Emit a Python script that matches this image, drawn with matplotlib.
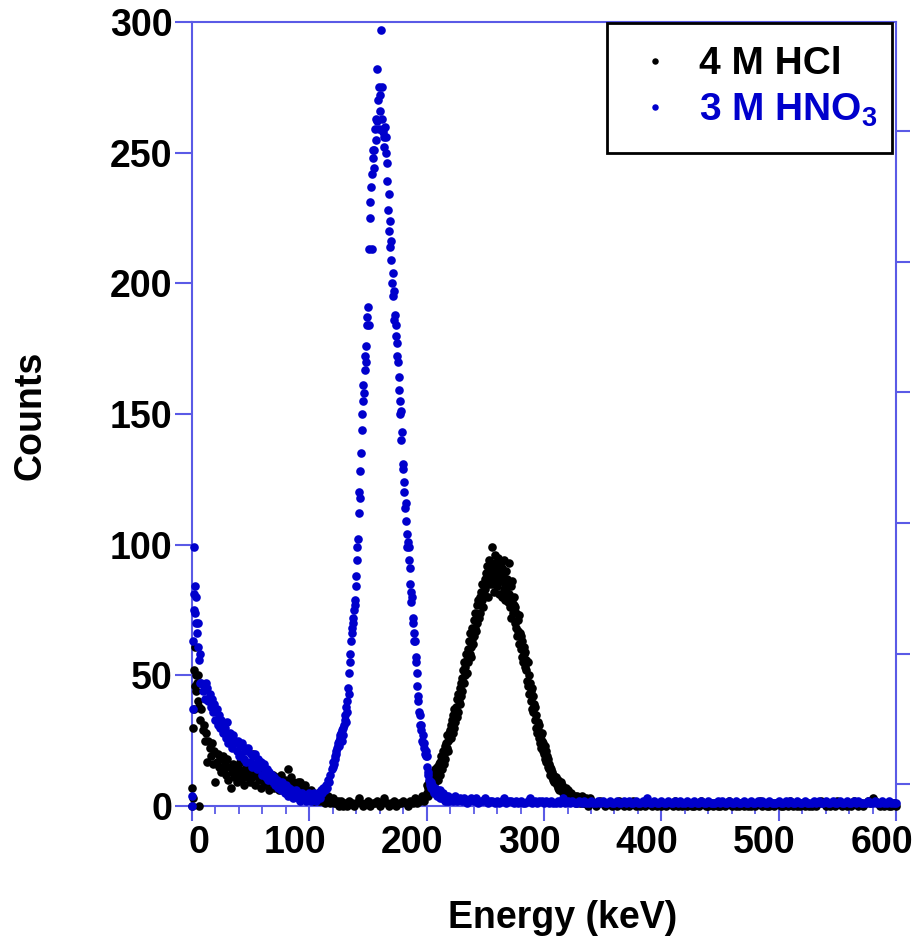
import numpy as np
import matplotlib
matplotlib.use('Agg')
import matplotlib.pyplot as plt
import matplotlib.transforms as mtransforms
from matplotlib.ticker import MultipleLocator

plt.rcParams['font.family'] = ['Liberation Sans', 'DejaVu Sans']
plt.rcParams['font.weight'] = 'bold'
plt.rcParams['mathtext.fontset'] = 'custom'
plt.rcParams['mathtext.rm'] = 'Liberation Sans:bold'
plt.rcParams['mathtext.bf'] = 'Liberation Sans:bold'
plt.rcParams['mathtext.default'] = 'bf'

# ---------------- data ----------------
series_labels = ['4 M HCl', '3 M HNO$_3$']
x_ticks = [0, 100, 200, 300, 400, 500, 600]
y_ticks = [0, 50, 100, 150, 200, 250, 300]
right_ticks = [8.3, 58.3, 108.3, 158.3, 208.3, 258.3]

# 4 M HCl
hcl_e_start = [0.0, 0.2, 0.5, 0.9, 1.3, 1.8, 2.2, 2.7, 3.1, 3.6, 4.2, 4.8, 5.5, 6.0, 6.3, 7.0]
hcl_c_start = [0, 7, 3, 30, 37, 52, 61, 46, 50, 44, 47, 40, 50, 0, 38, 33]
hcl_c_low = [  # 8..129 keV, 1 keV channels
    37, 29, 31, 25, 28, 17, 25, 22, 19, 24,
    16, 21, 9, 17, 20, 15, 18, 13, 19, 14,
    16, 12, 18, 10, 15, 7, 13, 16, 11, 14,
    9, 15, 12, 17, 10, 13, 8, 14, 11, 16,
    12, 9, 14, 11, 20, 13, 8, 12, 15, 10,
    11, 7, 13, 9, 12, 8, 9, 11, 6, 10,
    9, 12, 7, 10, 8, 11, 6, 9, 12, 8,
    7, 10, 6, 9, 14, 8, 11, 7, 9, 5,
    8, 6, 9, 5, 9, 7, 4, 6, 8, 4,
    5, 3, 4, 6, 3, 5, 2, 4, 3, 5,
    2, 3, 4, 2, 3, 1, 3, 2, 4, 2,
    1, 2, 3, 1, 2, 1, 2, 0, 1, 2, 1, 0]
hcl_c_mid = [  # 130..198 keV, 2 keV channels
    1, 0, 2, 1, 0, 1, 3, 1, 0, 1,
    2, 0, 1, 1, 2, 0, 1, 3, 1, 0,
    1, 2, 0, 1, 1, 2, 1, 0, 2, 1,
    3, 1, 2, 4, 2]
hcl_c_peak = [  # 200..339.5 keV, 0.5 keV channels
    5, 8, 4, 7, 9, 6, 10, 7, 12, 8,
    11, 8, 13, 10, 9, 14, 11, 12, 15, 10,
    13, 16, 12, 17, 15, 19, 14, 18, 21, 16,
    20, 23, 18, 24, 22, 27, 25, 21, 28, 26,
    29, 26, 31, 33, 28, 35, 30, 37, 32, 36,
    38, 34, 41, 36, 43, 40, 45, 39, 47, 42,
    49, 44, 52, 47, 55, 50, 53, 58, 51, 56,
    60, 55, 63, 58, 66, 61, 57, 68, 64, 62,
    65, 71, 68, 74, 67, 77, 70, 73, 79, 72,
    80, 74, 82, 77, 85, 79, 76, 84, 81, 87,
    83, 89, 86, 92, 80, 88, 94, 85, 90, 87,
    91, 85, 99, 88, 93, 82, 96, 89, 86, 92,
    84, 90, 95, 87, 81, 89, 93, 86, 80, 91,
    88, 83, 94, 79, 85, 90, 82, 87, 78, 84,
    81, 93, 76, 84, 72, 79, 86, 74, 80, 77,
    70, 76, 68, 74, 65, 71, 67, 62, 73, 66,
    60, 65, 57, 63, 55, 61, 58, 53, 59, 56,
    52, 48, 55, 46, 50, 43, 47, 44, 40, 45,
    37, 42, 36, 39, 33, 38, 30, 35, 28, 32,
    29, 26, 31, 24, 27, 22, 25, 28, 21, 24,
    20, 23, 18, 21, 17, 19, 15, 18, 16, 14,
    15, 12, 14, 11, 13, 10, 12, 9, 11, 10,
    9, 11, 8, 10, 7, 9, 6, 8, 7, 9,
    6, 8, 5, 7, 4, 6, 5, 7, 4, 5,
    4, 6, 3, 5, 4, 3, 5, 2, 4, 3,
    3, 2, 4, 3, 1, 3, 2, 4, 2, 3,
    2, 3, 1, 2, 4, 2, 1, 3, 2, 1,
    2, 1, 3, 1, 2, 0, 2, 1, 3, 1]
hcl_c_tail = [  # 340..600 keV, 2 keV channels
    2, 1, 0, 1, 2, 1, 0, 1, 1, 0,
    1, 0, 2, 1, 0, 1, 0, 1, 2, 0,
    1, 0, 1, 0, 2, 1, 0, 1, 0, 1,
    0, 1, 0, 1, 1, 0, 2, 0, 1, 0,
    1, 0, 1, 0, 0, 1, 0, 2, 1, 0,
    0, 1, 0, 1, 0, 0, 1, 0, 1, 2,
    0, 1, 0, 0, 1, 0, 1, 0, 0, 1,
    0, 1, 2, 0, 1, 0, 0, 1, 0, 1,
    1, 0, 0, 1, 0, 2, 0, 1, 0, 0,
    1, 0, 1, 0, 0, 1, 0, 1, 2, 1,
    0, 1, 0, 1, 0, 2, 1, 0, 1, 0,
    1, 0, 2, 1, 0, 1, 0, 1, 2, 1,
    3, 2, 1, 0, 1, 0, 1, 0, 0, 1,
    0]

# 3 M HNO3
hno3_e_start = [0.0, 0.3, 0.6, 1.0, 1.3, 1.7, 2.1, 2.5, 2.9, 3.3, 3.8, 4.3, 4.8, 5.3, 5.9, 6.5, 7.1]
hno3_c_start = [0, 4, 37, 63, 75, 99, 81, 84, 74, 80, 70, 66, 70, 61, 56, 58, 47]
hno3_c_low = [  # 8..119 keV, 1 keV channels
    47, 44, 46, 41, 47, 45, 40, 43, 38, 41,
    36, 39, 33, 37, 31, 35, 30, 33, 28, 31,
    30, 26, 32, 24, 28, 26, 22, 27, 24, 25,
    21, 25, 19, 23, 20, 24, 18, 22, 17, 21,
    22, 17, 20, 15, 19, 16, 20, 14, 18, 16,
    15, 17, 12, 16, 13, 11, 14, 10, 13, 11,
    12, 9, 11, 8, 10, 7, 9, 8, 6, 9,
    7, 5, 8, 6, 4, 7, 5, 6, 3, 5,
    4, 6, 3, 5, 2, 4, 5, 3, 4, 2,
    4, 3, 5, 2, 4, 3, 5, 4, 2, 4,
    5, 3, 6, 5, 7, 6, 8, 7, 10, 9, 12, 14]
hno3_c_peak = [  # 120..219.5 keV, 0.5 keV channels
    15, 17, 16, 19, 18, 21, 20, 22, 24, 23,
    25, 23, 27, 26, 28, 25, 29, 30, 27, 31,
    33, 35, 32, 38, 36, 40, 45, 43, 51, 55,
    58, 63, 68, 66, 72, 70, 75, 79, 77, 84,
    88, 94, 99, 102, 112, 120, 118, 128, 135, 144,
    150, 155, 161, 158, 167, 172, 176, 170, 184, 187,
    191, 184, 213, 225, 231, 237, 242, 213, 248, 251,
    251, 244, 259, 255, 263, 262, 282, 270, 259, 275,
    266, 272, 297, 275, 263, 259, 258, 252, 256, 260,
    256, 250, 246, 239, 228, 234, 220, 224, 214, 216,
    209, 200, 204, 195, 197, 186, 188, 184, 180, 177,
    172, 170, 164, 159, 155, 150, 151, 140, 143, 129,
    131, 124, 120, 114, 116, 109, 104, 99, 101, 94,
    99, 91, 85, 82, 78, 80, 70, 72, 66, 63,
    63, 55, 57, 51, 46, 42, 40, 36, 35, 31,
    31, 29, 25, 27, 24, 22, 24, 20, 21, 19,
    19, 15, 13, 12, 10, 9, 8, 9, 7, 8,
    6, 7, 5, 6, 7, 5, 6, 4, 5, 6,
    5, 4, 6, 3, 5, 4, 3, 5, 4, 3,
    4, 3, 2, 4, 3, 2, 3, 4, 2, 3]
hno3_c_tail = [  # 220..600 keV, 2 keV channels
    3, 2, 4, 2, 3, 2, 3, 1, 2, 3,
    2, 3, 1, 2, 2, 3, 1, 2, 2, 1,
    2, 1, 2, 3, 1, 2, 2, 1, 2, 1,
    2, 1, 1, 2, 3, 1, 2, 1, 2, 2,
    1, 2, 1, 2, 1, 1, 2, 1, 3, 1,
    2, 1, 2, 1, 1, 2, 1, 2, 1, 1,
    2, 1, 1, 2, 1, 2, 1, 1, 2, 1,
    1, 2, 1, 1, 2, 1, 2, 1, 1, 2,
    1, 1, 2, 1, 3, 1, 1, 2, 1, 1,
    2, 1, 1, 2, 1, 1, 2, 1, 2, 1,
    1, 2, 1, 1, 2, 1, 1, 2, 1, 1,
    2, 1, 1, 1, 2, 1, 2, 1, 1, 2,
    1, 1, 2, 1, 1, 2, 1, 1, 2, 1,
    1, 2, 1, 2, 1, 1, 2, 1, 1, 1,
    2, 1, 1, 2, 1, 2, 1, 1, 2, 1,
    1, 2, 1, 1, 1, 2, 1, 2, 1, 1,
    2, 1, 1, 2, 1, 1, 2, 1, 1, 2,
    1, 1, 2, 1, 2, 1, 1, 1, 2, 1,
    1, 2, 1, 1, 2, 1, 1, 2, 1, 1,
    1]


def channels(start, step, counts):
    return start + step * np.arange(len(counts))


hcl_energy = np.concatenate([hcl_e_start, channels(8, 1, hcl_c_low), channels(130, 2, hcl_c_mid),
                             channels(200, 0.5, hcl_c_peak), channels(340, 2, hcl_c_tail)])
hcl_counts = np.concatenate([hcl_c_start, hcl_c_low, hcl_c_mid, hcl_c_peak, hcl_c_tail])
hno3_energy = np.concatenate([hno3_e_start, channels(8, 1, hno3_c_low), channels(120, 0.5, hno3_c_peak),
                              channels(220, 2, hno3_c_tail)])
hno3_counts = np.concatenate([hno3_c_start, hno3_c_low, hno3_c_peak, hno3_c_tail])

# ---------------- figure ----------------
spine_col = '#5a5ae6'
blue = '#0000cc'

fig = plt.figure(figsize=(9.21, 9.43), dpi=100)
ax = fig.add_axes([0.2085, 0.1453, 0.7644, 0.8314])

ax.plot(hcl_energy, hcl_counts, 'o', color='black', ms=6.2, mew=0, clip_on=False,
        label=series_labels[0], zorder=3)
ax.plot(hno3_energy, hno3_counts, 'o', color=blue, ms=6.2, mew=0, clip_on=False,
        label=series_labels[1], zorder=4)

ax.set_xlim(0, 600)
ax.set_ylim(0, 300)
ax.set_xticks(x_ticks)
ax.set_yticks(y_ticks)
ax.xaxis.set_minor_locator(MultipleLocator(20))

for s in ax.spines.values():
    s.set_color(spine_col)
    s.set_linewidth(1.5)

ax.tick_params(axis='both', which='major', direction='out', color=spine_col, width=1.5,
               labelsize=27, labelcolor='black')
ax.tick_params(axis='y', which='major', length=12, pad=2)
ax.tick_params(axis='x', which='major', length=11, pad=3)
ax.tick_params(axis='x', which='minor', direction='out', length=6, width=1.3, color=spine_col)

# x tick labels in the reference are right-aligned a little to the right of the tick
offset = mtransforms.ScaledTranslation(17 / 100, 0, fig.dpi_scale_trans)
for lab in ax.get_xticklabels():
    lab.set_horizontalalignment('right')
    lab.set_transform(lab.get_transform() + offset)

ax2 = ax.twinx()
ax2.set_ylim(0, 300)
ax2.set_yticks(right_ticks)
ax2.set_yticklabels([])
ax2.tick_params(axis='y', direction='out', length=10, width=1.5, color=spine_col)
for s in ax2.spines.values():
    s.set_visible(False)

ax.set_xlabel('Energy (keV)', fontsize=27, fontweight='bold')
ax.set_ylabel('Counts', fontsize=27, fontweight='bold')
ax.xaxis.set_label_coords(0.527, -0.1429)
ax.xaxis.label.set_va('center')
ax.yaxis.set_label_coords(-0.230, 0.4987)
ax.yaxis.label.set_va('center')

leg = ax.legend(loc='upper left', bbox_to_anchor=(0.589, 0.9987, 0.405, 0.0), mode='expand',
                frameon=True, fancybox=False, edgecolor='black', framealpha=1,
                fontsize=28, markerscale=0.75, handlelength=1.3, handletextpad=0.48,
                borderpad=0.6, labelspacing=0.25, borderaxespad=0)
leg.get_frame().set_linewidth(2)
leg.set_zorder(10)
leg.get_texts()[0].set_color('black')
leg.get_texts()[1].set_color(blue)

fig.savefig('out.png', dpi=100)
